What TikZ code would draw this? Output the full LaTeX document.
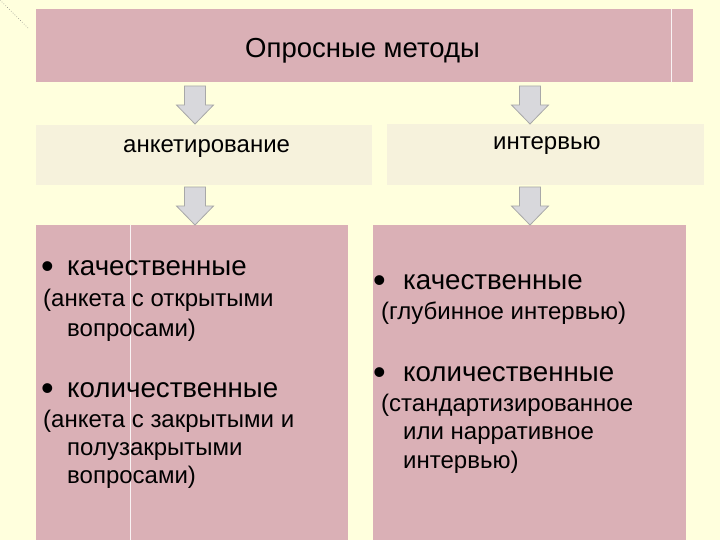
\documentclass[tikz,border=0pt]{standalone}
\usepackage{fontspec}
\setmainfont{Liberation Sans}
\definecolor{bgyellow}{HTML}{FFFFDD}
\definecolor{pinkbox}{HTML}{DAB0B6}
\definecolor{beigebox}{HTML}{F6F2DC}
\definecolor{arrowfill}{HTML}{D8D8DC}
\definecolor{arrowedge}{HTML}{A8A8A8}
\tikzset{
  boxbase/.style={rectangle, inner sep=0pt, outer sep=0pt, draw=none, anchor=north west},
  pinkrect/.style={boxbase, fill=pinkbox},
  beigerect/.style={boxbase, fill=beigebox},
  arrowstyle/.style={fill=arrowfill, draw=arrowedge, line width=0.8pt, line join=miter},
  blockarrow/.pic={\filldraw[arrowstyle] (-10.5,0) -- (10.5,0) -- (10.5,19) -- (18.5,19) -- (0,38) -- (-18.5,19) -- (-10.5,19) -- cycle;},
  titletext/.style={inner sep=0pt, anchor=base, font=\fontsize{27.5pt}{32pt}\selectfont},
  labeltext/.style={inner sep=0pt, anchor=base west, font=\fontsize{24pt}{28pt}\selectfont},
  headtext/.style={inner sep=0pt, anchor=base west, font=\fontsize{27.7pt}{32pt}\selectfont},
  bullettext/.style={inner sep=0pt, anchor=base, font=\fontsize{36pt}{40pt}\selectfont},
  subtext/.style={inner sep=0pt, anchor=base west, font=\fontsize{24pt}{28pt}\selectfont},
  seam/.style={draw=white!85!pinkbox, line width=1pt}
}
\begin{document}
\begin{tikzpicture}[x=1pt,y=-1pt]
\useasboundingbox (0,0) rectangle (720,540);
\fill[bgyellow] (0,0) rectangle (720,540);
% corner dotted line
\coordinate (c0) at (0,0);
\coordinate (c1) at (29,29);
\draw[gray, dotted, line width=0.6pt] (c0) -- (c1);

% boxes
\node[pinkrect, minimum width=657pt, minimum height=73pt] (top) at (36,9) {};
\node[beigerect, minimum width=336pt, minimum height=60pt] (lmid) at (36,125) {};
\node[beigerect, minimum width=317pt, minimum height=61pt] (rmid) at (387,124) {};
\node[pinkrect, minimum width=312pt, minimum height=316pt] (lbot) at (36,225) {};
\node[pinkrect, minimum width=313pt, minimum height=316pt] (rbot) at (373,225) {};

% seams
\draw[seam] (671,9) -- (671,82);
\draw[seam] (130,225) -- (130,540);

% arrows
\pic at (195,86) {blockarrow};
\pic at (530,86) {blockarrow};
\pic at (195,187) {blockarrow};
\pic at (530,187) {blockarrow};

% texts
\node[titletext] (ttitle) at (362.5,58) {Опросные методы};
\node[labeltext] (tleft) at (123,153) {анкетирование};
\node[labeltext] (tright) at (493,150) {интервью};

% left bottom
\node[bullettext] (lb1) at (47.5,278) {•};
\node[headtext] (lh1) at (67,275) {качественные};
\node[subtext] (ls1) at (43,306) {(анкета с открытыми};
\node[subtext] (ls2) at (67,336) {вопросами)};
\node[bullettext] (lb2) at (47.5,400) {•};
\node[headtext] (lh2) at (67,397) {количественные};
\node[subtext] (ls3) at (43,427) {(анкета с закрытыми и};
\node[subtext] (ls4) at (67,455) {полузакрытыми};
\node[subtext] (ls5) at (67,483) {вопросами)};

% right bottom
\node[bullettext] (rb1) at (379.5,292) {•};
\node[headtext] (rh1) at (403,289) {качественные};
\node[subtext] (rs1) at (381,319) {(глубинное интервью)};
\node[bullettext] (rb2) at (379.5,384) {•};
\node[headtext] (rh2) at (403,381) {количественные};
\node[subtext] (rs2) at (381,411) {(стандартизированное};
\node[subtext] (rs3) at (403,439) {или нарративное};
\node[subtext] (rs4) at (403,468) {интервью)};
\end{tikzpicture}
\end{document}
